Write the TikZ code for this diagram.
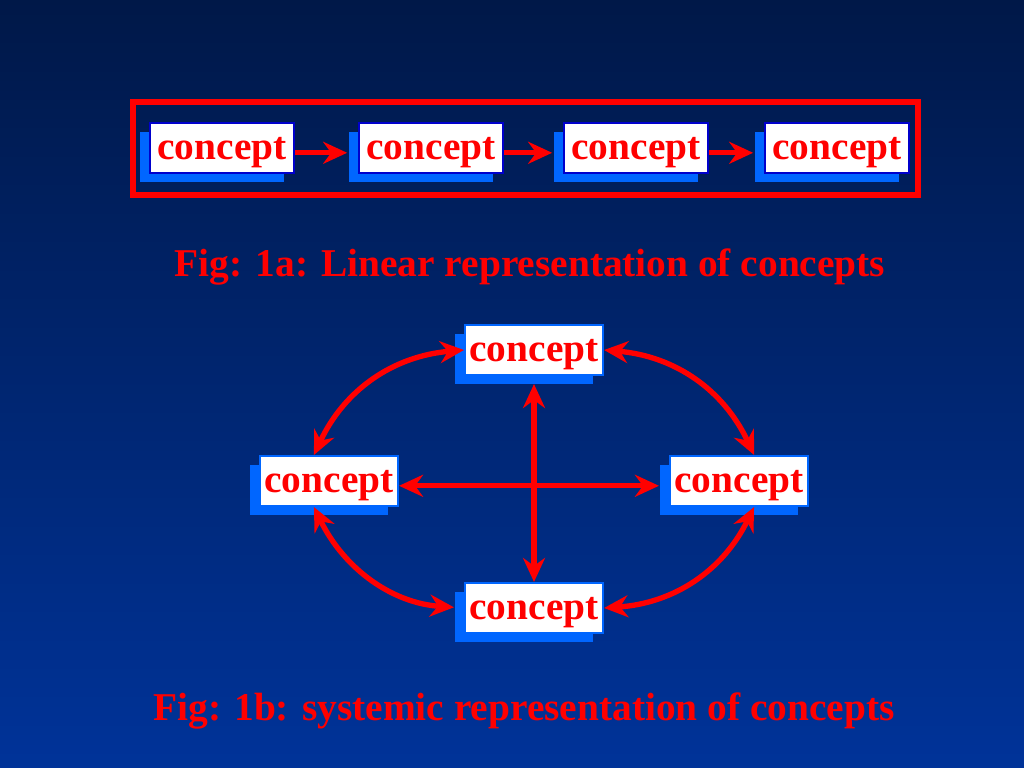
\documentclass[tikz,border=0pt]{standalone}
\usepackage{fontspec}
\setmainfont{Liberation Serif}
\usepackage{xcolor}
\usetikzlibrary{arrows.meta,shadows}
\definecolor{bgtop}{HTML}{001848}
\definecolor{bgbot}{HTML}{003399}
\definecolor{shblue}{HTML}{0066FF}
\definecolor{bdblue}{HTML}{0000CC}
\definecolor{txred}{HTML}{FF0000}
\tikzset{
  concept/.style={draw=bdblue, line width=1.5pt, fill=white, text=txred,
    font=\fontsize{28}{34}\selectfont\bfseries, inner sep=0pt,
    text height=17pt, text depth=0pt,
    minimum width=3.6cm, minimum height=1.25cm,
    drop shadow={shadow xshift=-0.25cm, shadow yshift=-0.22cm, fill=shblue, opacity=1}},
  lowconcept/.style={concept, draw=shblue, minimum width=3.45cm},
  arr/.style={txred, line width=3.8pt, -{Stealth[length=0.6cm,width=0.55cm,inset=0.2cm]}},
  darr/.style={arr, {Stealth[length=0.6cm,width=0.55cm,inset=0.2cm]}-{Stealth[length=0.6cm,width=0.55cm,inset=0.2cm]}},
  caption/.style={text=txred, font=\fontsize{28}{34}\selectfont\bfseries}
}
\begin{document}
\begin{tikzpicture}[x=0.025cm, y=-0.025cm]
% фон
\shade [top color=bgtop, bottom color=bgbot] (0,0) rectangle (1024,768);
\useasboundingbox (0,0) rectangle (1024,768);
% рамка
\draw [txred, line width=0.15cm] (133,102) rectangle (918,195);
% линейная схема
\node [concept] (c1) at (222,148) {concept};
\node [concept] (c2) at (431,148) {concept};
\node [concept] (c3) at (636,148) {concept};
\node [concept] (c4) at (837,148) {concept};
\draw [arr, shorten >=0.27cm] ([yshift=-0.12cm]c1.east) -- ([yshift=-0.12cm]c2.west);
\draw [arr, shorten >=0.27cm] ([yshift=-0.12cm]c2.east) -- ([yshift=-0.12cm]c3.west);
\draw [arr, shorten >=0.27cm] ([yshift=-0.12cm]c3.east) -- ([yshift=-0.12cm]c4.west);
\node [caption] (cap1) at (530,267) {Fig: 1a: Linear representation of concepts};
% системная схема
\node [lowconcept] (t) at (534,350) {concept};
\node [lowconcept] (l) at (329,481) {concept};
\node [lowconcept] (r) at (739,481) {concept};
\node [lowconcept] (b) at (534,608) {concept};
\draw [darr, shorten >=0.25cm] ([yshift=-0.12cm]l.east) -- ([yshift=-0.12cm]r.west);
\draw [darr, shorten <=0.2cm] (t.south) -- (b.north);
\draw [darr] (l.120) to [bend left=30] (t.west);
\draw [darr] (t.east) to [bend left=30] (r.60);
\draw [darr] (r.-60) to [bend left=30] (b.east);
\draw [darr, shorten <=0.25cm] (b.west) to [bend left=30] (l.-120);
\node [caption] (cap2) at (524,711) {Fig: 1b: systemic representation of concepts};
\end{tikzpicture}
\end{document}
